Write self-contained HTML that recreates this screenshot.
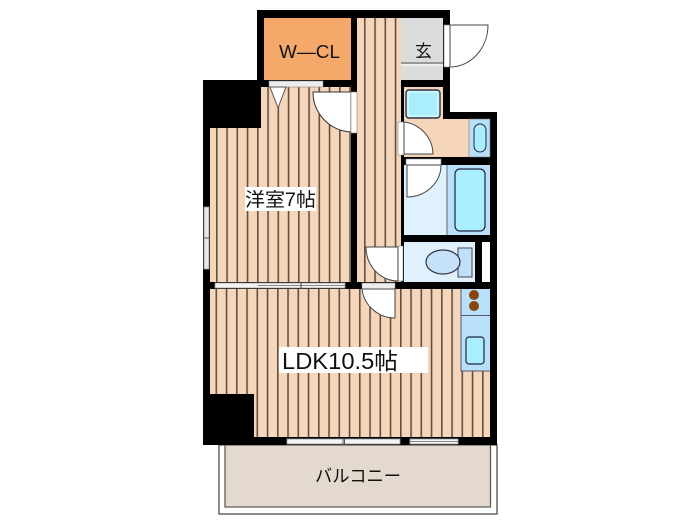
<!DOCTYPE html>
<html><head><meta charset="utf-8"><style>html,body{margin:0;padding:0;background:#fff}svg{display:block}text{font-family:"Liberation Sans","Noto Sans CJK JP",sans-serif;fill:#111}</style></head><body>
<svg width="700" height="525" viewBox="0 0 700 525" xmlns="http://www.w3.org/2000/svg">
<defs>
<pattern id="a" x="216" y="0" width="10.25" height="10" patternUnits="userSpaceOnUse"><rect width="10.25" height="10" fill="#f5d6ba"/><rect x="0" width="1.6" height="10" fill="#5f5044"/></pattern>
<pattern id="b" x="364" y="0" width="10.25" height="10" patternUnits="userSpaceOnUse"><rect width="10.25" height="10" fill="#f5d6ba"/><rect x="0" width="1.6" height="10" fill="#5f5044"/></pattern>
<pattern id="c" x="359" y="0" width="10.25" height="10" patternUnits="userSpaceOnUse"><rect width="10.25" height="10" fill="#f5d6ba"/><rect x="0" width="1.6" height="10" fill="#5f5044"/></pattern>
</defs>
<!-- balcony -->
<rect x="219" y="445" width="278" height="69" fill="#fff" stroke="#666" stroke-width="1.5"/>
<rect x="225" y="445" width="265.500" height="62" fill="#e3d9cf" stroke="#555" stroke-width="1.2"/>
<!-- wall mass -->
<path d="M257 10H450V112H497V445H203V80H257Z" fill="#000"/>
<!-- rooms -->
<rect x="264" y="18" width="87" height="62" fill="#f4a96b"/>
<rect x="357" y="18" width="44" height="264" fill="url(#b)"/>
<rect x="401" y="18" width="42" height="62" fill="#dcdcdc"/>
<path d="M401 63H443" stroke="#555" stroke-width="1"/>
<path d="M401 65H443" stroke="#fff" stroke-width="1"/>
<path d="M210 128H261V87H351V282H210Z" fill="url(#a)"/>
<path d="M210 289H461V437H254V394H210Z" fill="url(#c)"/>
<rect x="461" y="371" width="29" height="66" fill="url(#c)"/>
<!-- wash room -->
<path d="M404 87H443V119H469V157H404Z" fill="#f6d6ba"/>
<rect x="469" y="119" width="21" height="38" fill="#b9e0fa" stroke="#777" stroke-width=".6"/>
<rect x="474" y="124" width="12" height="28" rx="6" fill="#a8eefc" stroke="#224" stroke-width="1"/>
<rect x="406" y="90" width="34" height="28" rx="3" fill="#a8eefc" stroke="#334" stroke-width="1.4"/>
<rect x="408" y="92" width="30" height="24" rx="2" fill="none" stroke="#fff" stroke-width=".8"/>
<!-- bath -->
<rect x="404" y="165" width="43" height="70" fill="#def1fd"/>
<rect x="447" y="165" width="43" height="70" fill="#b9e0fa"/>
<path d="M447 165V235" stroke="#666" stroke-width="1"/>
<rect x="455" y="169" width="30" height="62" rx="5" fill="#a8eefc" stroke="#224" stroke-width="1.2"/>
<!-- toilet -->
<rect x="404" y="242" width="71" height="40" fill="#def1fd"/>
<rect x="482" y="242" width="8" height="40" fill="#fff"/>
<rect x="458" y="248" width="14" height="29" fill="#c2dff8" stroke="#445" stroke-width="1"/>
<ellipse cx="443" cy="262" rx="17" ry="12" fill="#c6e2fb" stroke="#334" stroke-width="1.2"/>
<!-- kitchen -->
<rect x="461" y="289" width="29" height="26" fill="#b9e0fa"/>
<rect x="461" y="316" width="29" height="55" fill="#b9e0fa"/>
<path d="M461 315.500H490M461 289V371H490" fill="none" stroke="#556" stroke-width="1"/>
<circle cx="474" cy="295" r="5" fill="#8a4510"/><circle cx="474" cy="306" r="5" fill="#8a4510"/>
<rect x="466" y="337" width="18" height="27" rx="3" fill="#a8eefc" stroke="#224" stroke-width="1.2"/>
<!-- closet door -->
<rect x="269" y="81" width="54" height="6" fill="#eee" stroke="#888" stroke-width=".6"/>
<path d="M270 87H286L278 108Z" fill="#fff" stroke="#555" stroke-width="1"/>
<!-- room door -->
<path d="M313 92H351V132A40 40 0 0 1 313 92Z" fill="#fff" stroke="#333" stroke-width="1"/>
<rect x="351" y="92" width="6" height="41" fill="#fff" stroke="#888" stroke-width=".6"/>
<!-- entry door -->
<rect x="444" y="25" width="6" height="42" fill="#fff" stroke="#888" stroke-width=".6"/>
<path d="M450 25H488A38 42 0 0 1 450 67Z" fill="#fff" stroke="#444" stroke-width="1"/>
<!-- wash door -->
<rect x="398" y="122" width="6" height="33" fill="#fff" stroke="#888" stroke-width=".6"/>
<path d="M404 122A33 33 0 0 1 433 154H404Z" fill="#fff" stroke="#444" stroke-width="1"/>
<!-- bath door -->
<rect x="406" y="159" width="35" height="6" fill="#fff" stroke="#888" stroke-width=".6"/>
<path d="M407 165H441A34 32 0 0 1 407 197Z" fill="#fff" stroke="#444" stroke-width="1"/>
<!-- toilet door -->
<rect x="398" y="246" width="5" height="35" fill="#fff" stroke="#888" stroke-width=".6"/>
<path d="M398 247H366A32 34 0 0 0 398 281Z" fill="#fff" stroke="#444" stroke-width="1"/>
<!-- LDK door -->
<rect x="362" y="283" width="33" height="6" fill="#eee" stroke="#888" stroke-width=".6"/>
<path d="M362 289H395V318A33 33 0 0 1 362 289Z" fill="#fff" stroke="#444" stroke-width="1"/>
<!-- windows -->
<rect x="204" y="207" width="5" height="62" fill="#e8e8e8" stroke="#999" stroke-width=".8"/>
<path d="M203 238H210" stroke="#555" stroke-width="1"/>
<rect x="215" y="283" width="130" height="5" fill="#f4f4f4" stroke="#999" stroke-width=".8"/>
<path d="M258 285.500H345" stroke="#888" stroke-width="1"/>
<path d="M301 282V289" stroke="#444" stroke-width="1"/>
<rect x="287" y="439" width="113" height="5" fill="#f4f4f4" stroke="#999" stroke-width=".8"/>
<rect x="410" y="439" width="48" height="5" fill="#f4f4f4" stroke="#999" stroke-width=".8"/>
<path d="M343 438V445M344.500 438V445" stroke="#555" stroke-width="1"/>
<path d="M410 441.500H458" stroke="#888" stroke-width="1"/>
<!-- labels -->
<text x="279" y="58" font-size="18" textLength="61" lengthAdjust="spacingAndGlyphs">W—CL</text>
<text x="415" y="57" font-size="17">玄</text>
<rect x="245" y="187" width="71" height="24" fill="#fff"/>
<text x="245" y="206" font-size="19" textLength="71" lengthAdjust="spacingAndGlyphs">洋室7帖</text>
<rect x="279" y="347" width="149" height="26" fill="#fff"/>
<text x="282" y="369" font-size="23" textLength="116" lengthAdjust="spacingAndGlyphs">LDK10.5帖</text>
<text x="315" y="482" font-size="17.500" textLength="86" lengthAdjust="spacingAndGlyphs">バルコニー</text>
</svg>
</body></html>
